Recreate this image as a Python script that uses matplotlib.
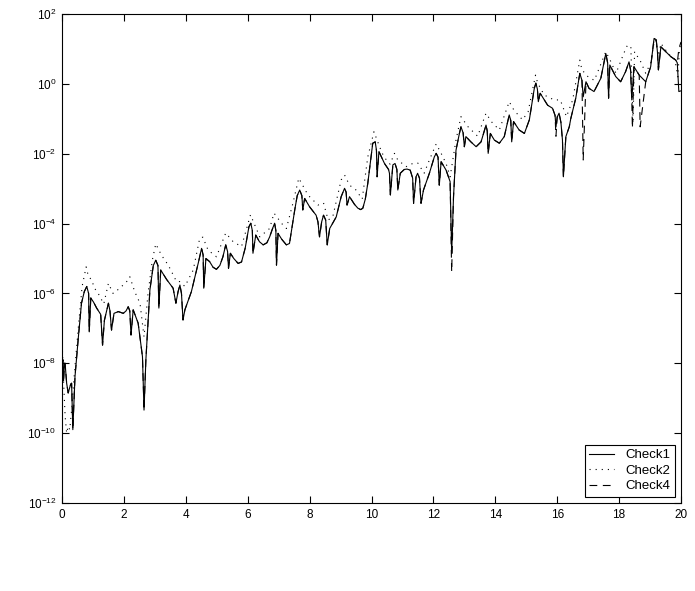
import matplotlib
matplotlib.use("Agg")
import matplotlib.pyplot as plt
import numpy as np
from matplotlib.ticker import NullLocator

# values; y values are stored as log10
check1_x = [
    0.0, 0.03, 0.05, 0.08, 0.1, 0.15, 0.2, 0.28, 0.31, 0.35, 0.42, 0.53, 0.63, 0.72, 0.8,
    0.86, 0.88, 0.93, 1.02, 1.12, 1.25, 1.31, 1.37, 1.5, 1.55, 1.6, 1.68, 1.82, 1.98, 2.07,
    2.14, 2.19, 2.23, 2.3, 2.46, 2.6, 2.65, 2.71, 2.84, 2.95, 3.03, 3.1, 3.13, 3.19, 3.38,
    3.59, 3.68, 3.75, 3.81, 3.86, 3.91, 3.97, 4.18, 4.4, 4.51, 4.56, 4.58, 4.65, 4.77, 4.88,
    4.99, 5.1, 5.2, 5.29, 5.35, 5.38, 5.44, 5.55, 5.69, 5.8, 5.92, 6.04, 6.1, 6.15, 6.17,
    6.26, 6.38, 6.5, 6.62, 6.71, 6.8, 6.87, 6.91, 6.93, 6.98, 7.1, 7.25, 7.35, 7.45, 7.52,
    7.6, 7.68, 7.75, 7.78, 7.84, 8.0, 8.21, 8.27, 8.32, 8.39, 8.45, 8.52, 8.57, 8.65, 8.86,
    9.02, 9.13, 9.18, 9.21, 9.29, 9.45, 9.56, 9.65, 9.72, 9.8, 9.88, 10.04, 10.12, 10.16, 10.18,
    10.24, 10.42, 10.55, 10.58, 10.61, 10.69, 10.76, 10.82, 10.85, 10.93, 11.06, 11.15, 11.25, 11.33, 11.36,
    11.44, 11.49, 11.55, 11.6, 11.68, 11.87, 12.03, 12.09, 12.15, 12.19, 12.25, 12.41, 12.54, 12.59, 12.65,
    12.73, 12.84, 12.89, 12.96, 13.0, 13.05, 13.21, 13.38, 13.54, 13.7, 13.74, 13.77, 13.84, 13.97, 14.13,
    14.29, 14.45, 14.5, 14.53, 14.59, 14.77, 14.94, 15.1, 15.26, 15.31, 15.36, 15.39, 15.45, 15.69, 15.85,
    15.93, 15.96, 16.0, 16.06, 16.12, 16.17, 16.2, 16.28, 16.39, 16.44, 16.6, 16.73, 16.8, 16.84, 16.93,
    17.03, 17.19, 17.41, 17.57, 17.63, 17.66, 17.7, 17.89, 18.05, 18.21, 18.32, 18.37, 18.41, 18.48, 18.65,
    18.86, 19.02, 19.13, 19.2, 19.24, 19.27, 19.35, 19.51, 19.67, 19.83, 19.88, 19.93, 20.0,
]
check1_log = [
    -8.0, -7.9, -8.5, -8.0, -8.0, -8.57, -8.85, -8.6, -8.57, -9.9, -8.38, -7.24, -6.28, -5.95, -5.8,
    -6.0, -7.1, -6.13, -6.25, -6.42, -6.6, -7.48, -6.77, -6.28, -6.5, -7.05, -6.57, -6.52, -6.57, -6.5,
    -6.38, -6.5, -7.19, -6.47, -6.85, -7.81, -9.34, -7.9, -5.9, -5.2, -5.05, -5.2, -6.42, -5.33, -5.6,
    -5.85, -6.28, -5.95, -5.76, -6.0, -6.76, -6.47, -5.95, -5.14, -4.71, -4.9, -5.85, -5.0, -5.09, -5.25,
    -5.31, -5.2, -4.95, -4.61, -4.8, -5.28, -4.85, -5.0, -5.14, -5.1, -4.7, -4.09, -3.99, -4.2, -4.85,
    -4.33, -4.52, -4.61, -4.55, -4.38, -4.15, -3.99, -4.2, -5.19, -4.28, -4.45, -4.61, -4.57, -4.0, -3.61,
    -3.2, -3.04, -3.2, -3.61, -3.28, -3.52, -3.76, -3.95, -4.38, -3.95, -3.76, -3.9, -4.61, -4.14, -3.81,
    -3.23, -2.99, -3.1, -3.47, -3.23, -3.45, -3.56, -3.6, -3.56, -3.3, -2.85, -1.7, -1.66, -1.9, -2.66,
    -1.94, -2.28, -2.45, -2.56, -3.18, -2.32, -2.28, -2.45, -3.04, -2.56, -2.45, -2.44, -2.47, -2.7, -3.42,
    -2.66, -2.56, -2.7, -3.42, -3.04, -2.56, -2.09, -1.99, -2.1, -2.9, -2.23, -2.47, -2.8, -4.85, -3.23,
    -1.9, -1.42, -1.23, -1.4, -1.8, -1.51, -1.66, -1.8, -1.66, -1.18, -1.35, -1.99, -1.42, -1.61, -1.7,
    -1.51, -0.89, -1.05, -1.66, -1.08, -1.32, -1.42, -1.03, -0.13, 0.02, -0.15, -0.51, -0.27, -0.61, -0.7,
    -0.9, -1.23, -0.95, -0.84, -1.1, -1.61, -2.66, -1.51, -1.23, -0.99, -0.41, 0.3, 0.1, -0.37, 0.06,
    -0.13, -0.22, 0.16, 0.87, 0.6, -0.41, 0.54, 0.21, 0.06, 0.35, 0.63, 0.4, -0.46, 0.49, 0.25,
    0.06, 0.49, 1.3, 1.26, 0.9, 0.4, 1.06, 0.92, 0.78, 0.68, 0.6, -0.22, -0.2,
]

check2_x = [
    0.0, 0.05, 0.1, 0.15, 0.2, 0.25, 0.31, 0.4, 0.53, 0.65, 0.78, 0.85, 0.96, 1.05, 1.17,
    1.35, 1.5, 1.65, 1.87, 2.09, 2.19, 2.35, 2.52, 2.65, 2.78, 2.92, 3.03, 3.21, 3.44, 3.7,
    3.8, 3.97, 4.24, 4.45, 4.55, 4.72, 4.99, 5.29, 5.53, 5.8, 6.09, 6.39, 6.71, 6.85, 7.1,
    7.25, 7.46, 7.65, 7.89, 8.0, 8.27, 8.45, 8.6, 8.75, 9.02, 9.13, 9.29, 9.5, 9.7, 9.88,
    10.08, 10.26, 10.4, 10.6, 10.74, 10.85, 11.12, 11.33, 11.5, 11.7, 11.87, 12.09, 12.25, 12.41, 12.54,
    12.73, 12.89, 13.12, 13.2, 13.43, 13.7, 13.87, 14.13, 14.45, 14.6, 14.88, 15.06, 15.3, 15.37, 15.58,
    15.9, 16.1, 16.3, 16.5, 16.73, 16.8, 17.0, 17.2, 17.57, 17.7, 17.9, 18.15, 18.27, 18.38, 18.45,
    18.5, 18.7, 18.86, 19.02, 19.16, 19.27, 19.35, 19.6, 19.8, 19.9, 19.95, 20.0,
]
check2_log = [
    -7.3, -8.5, -9.5, -10.0, -9.8, -9.9, -9.34, -8.3, -6.95, -5.8, -5.24, -5.5, -5.62, -5.85, -6.0,
    -6.3, -5.71, -6.0, -5.85, -5.66, -5.52, -5.95, -6.28, -7.24, -6.0, -5.04, -4.58, -4.9, -5.2, -5.66,
    -5.66, -5.8, -5.33, -4.42, -4.39, -4.76, -4.95, -4.27, -4.52, -4.66, -3.75, -4.38, -4.14, -3.7, -4.0,
    -4.14, -3.42, -2.7, -3.09, -3.23, -3.47, -3.41, -3.9, -3.8, -2.75, -2.61, -2.9, -3.04, -3.3, -2.09,
    -1.37, -1.8, -2.09, -2.3, -1.99, -2.18, -2.37, -2.28, -2.27, -2.56, -2.18, -1.72, -1.99, -2.28, -2.66,
    -1.61, -0.94, -1.23, -1.3, -1.5, -0.84, -1.08, -1.32, -0.51, -0.75, -1.03, -0.8, 0.25, 0.02, -0.32,
    -0.46, -0.46, -0.94, -0.46, 0.68, 0.4, 0.2, 0.1, 0.92, 0.7, 0.3, 0.87, 1.11, 1.06, -1.13,
    0.92, 0.63, 0.3, 0.6, 1.35, 0.8, 1.16, 0.85, 0.7, 0.2, 1.0, 1.15,
]

# Check4 follows Check1 except at these points
check4_diff_x = [12.59, 15.96, 16.84, 18.43, 18.68, 19.93, 20.0]
check4_diff_log = [-5.38, -1.5, -2.18, -1.27, -1.23, 1.0, 1.2]

check4 = dict(zip(check1_x, check1_log))
check4.update(zip(check4_diff_x, check4_diff_log))
check4_x = sorted(check4)
check4_log = [check4[k] for k in check4_x]

series = [
    ("Check1", check1_x, check1_log, "-"),
    ("Check2", check2_x, check2_log, (0, (1.0, 4.5))),
    ("Check4", check4_x, check4_log, (0, (7, 5))),
]

plt.rcParams["font.family"] = ["Liberation Sans", "DejaVu Sans"]
plt.rcParams["font.size"] = 8.5

fig = plt.figure(figsize=(6.95, 5.91), dpi=100)
ax = fig.add_axes([62 / 695, 88 / 591, 619 / 695, 489 / 591])

for name, xs, ys, ls in series:
    ax.plot(xs, 10.0 ** np.array(ys), color="black", linewidth=0.8,
            linestyle=ls, label=name)

ax.set_yscale("log")
ax.set_xlim(0, 20)
ax.set_ylim(1e-12, 1e2)
ax.set_xticks(range(0, 21, 2))
ax.set_yticks([10.0 ** e for e in range(-12, 3, 2)])
ax.yaxis.set_minor_locator(NullLocator())
ax.tick_params(direction="in", length=5, width=0.8, top=True, right=True,
               labelsize=8.5, pad=4)
for s in ax.spines.values():
    s.set_linewidth(0.8)

leg = ax.legend(loc="lower right", fancybox=False, framealpha=1, fontsize=9.5,
                edgecolor="black", borderaxespad=0.45, handlelength=1.9,
                labelspacing=0.25, borderpad=0.35, handletextpad=0.85)
leg.get_frame().set_linewidth(0.8)

fig.savefig("out.png", dpi=100)
